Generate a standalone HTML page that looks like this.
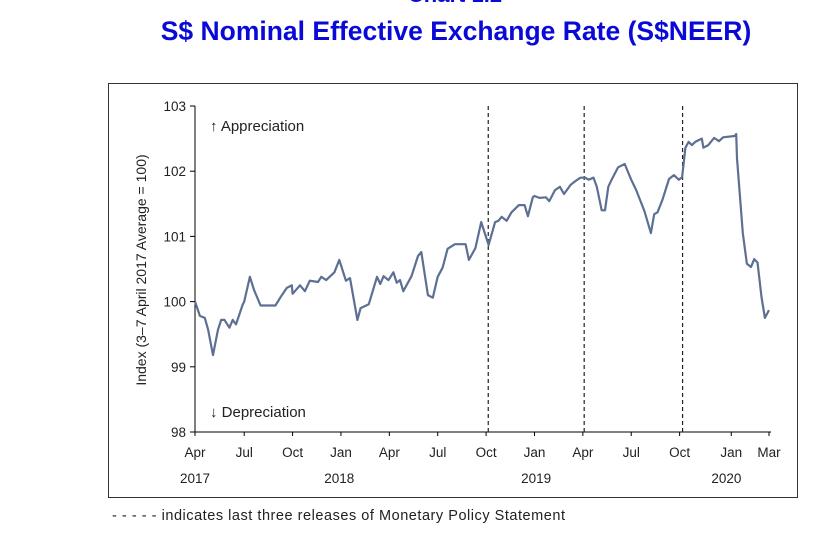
<!DOCTYPE html>
<html><head><meta charset="utf-8"><style>
body{margin:0;background:#fff;width:838px;height:544px;overflow:hidden;font-family:"Liberation Sans",Arial,sans-serif}
svg{position:absolute;left:0;top:0}
</style></head><body>
<svg width="838" height="544">
<text x="455" y="2" text-anchor="middle" font-size="22" font-weight="bold" fill="#0a0ad8">Chart 1.2</text>
<text x="456" y="40" text-anchor="middle" font-size="26.5" font-weight="bold" fill="#0a0ad8">S$ Nominal Effective Exchange Rate (S$NEER)</text>
<rect x="108.5" y="83.5" width="689" height="414" fill="none" stroke="#333" stroke-width="1"/>
<g id="axes"></g>
<g id="marks"></g>
<text x="112" y="520" font-size="14.5" fill="#222" textLength="453" lengthAdjust="spacing">- - - - -  indicates last three releases of Monetary Policy Statement</text>
</svg>
<script>
const months=[0,0.3,0.6,0.8,1.1,1.4,1.6,1.8,2.1,2.3,2.5,2.9,3.0,3.35,3.6,4.0,4.9,5.3,5.6,5.9,5.95,6.4,6.7,7.0,7.5,7.7,8.0,8.5,8.8,9.2,9.45,9.9,10.1,10.6,11.1,11.3,11.5,11.8,12.1,12.3,12.5,12.7,13.2,13.6,13.8,14.2,14.5,14.8,15.1,15.4,15.85,16.5,16.7,17.1,17.45,17.9,18.3,18.5,18.7,19.0,19.3,19.75,20.1,20.3,20.6,20.7,21.0,21.4,21.6,21.95,22.25,22.5,22.9,23.2,23.5,23.8,24.0,24.3,24.5,24.8,25.0,25.2,25.4,25.8,26.2,26.6,26.9,27.4,27.8,28.0,28.2,28.5,28.9,29.2,29.5,29.7,29.9,30.1,30.3,30.5,30.9,31.0,31.3,31.65,31.95,32.2,32.9,33.0,33.05,33.4,33.65,33.9,34.1,34.3,34.55,34.75,35.0];
const neer=[100.0,99.78,99.75,99.57,99.18,99.57,99.72,99.72,99.6,99.72,99.65,99.95,100.0,100.38,100.18,99.94,99.94,100.1,100.21,100.25,100.12,100.25,100.16,100.32,100.3,100.38,100.33,100.45,100.64,100.32,100.36,99.72,99.9,99.96,100.38,100.27,100.39,100.33,100.45,100.29,100.33,100.16,100.39,100.7,100.76,100.1,100.06,100.38,100.52,100.81,100.88,100.88,100.64,100.82,101.22,100.87,101.22,101.24,101.3,101.24,101.37,101.48,101.48,101.31,101.6,101.62,101.59,101.6,101.54,101.71,101.76,101.65,101.79,101.85,101.9,101.9,101.87,101.9,101.76,101.4,101.4,101.76,101.87,102.06,102.11,101.87,101.71,101.39,101.05,101.34,101.37,101.56,101.88,101.94,101.87,101.91,102.36,102.45,102.4,102.45,102.5,102.36,102.4,102.51,102.46,102.52,102.54,102.57,102.2,101.05,100.58,100.53,100.65,100.6,100.06,99.75,99.87];
const yTicks=[98,99,100,101,102,103];
const xTickMonths=[0,3,5.95,8.9,11.85,14.8,17.75,20.7,23.65,26.6,29.55,32.7,35];
const xTickLabels=["Apr","Jul","Oct","Jan","Apr","Jul","Oct","Jan","Apr","Jul","Oct","Jan","Mar"];
const yearMonths=[0,8.8,20.8,32.4];
const yearLabels=["2017","2018","2019","2020"];
const mpsMonths=[17.85,23.7,29.7];

const X0=195,X1=769,Y0=432,Y1=106;
const x=m=>X0+(X1-X0)*m/35;
const y=v=>Y0-(Y0-Y1)*(v-98)/5;
const NS="http://www.w3.org/2000/svg";
function mk(t,a,p,txt){const e=document.createElementNS(NS,t);for(const k in a)e.setAttribute(k,a[k]);if(txt!==undefined)e.textContent=txt;p.appendChild(e);return e;}
const ax=document.getElementById('axes'),mg=document.getElementById('marks');
let e=mk('line',{x1:X0,y1:Y1,x2:X0,y2:Y0,stroke:'#000','stroke-width':1},ax);

e=mk('line',{x1:X0,y1:Y0,x2:X1+2,y2:Y0,stroke:'#000','stroke-width':1},ax);

yTicks.forEach(v=>{
 mk('line',{x1:X0-5,y1:y(v),x2:X0,y2:y(v),stroke:'#000'},ax);
 e=mk('text',{x:X0-9,y:y(v)+5,'text-anchor':'end','font-size':13.5,fill:'#222'},ax,String(v));
 
});
xTickMonths.forEach((m,i)=>{
 mk('line',{x1:x(m),y1:Y0,x2:x(m),y2:Y0+4,stroke:'#000'},ax);
 e=mk('text',{x:x(m),y:457,'text-anchor':'middle','font-size':13.5,fill:'#222'},ax,xTickLabels[i]);
 
});
yearMonths.forEach((m,i)=>{
 e=mk('text',{x:x(m),y:483,'text-anchor':'middle','font-size':13.5,fill:'#222'},ax,yearLabels[i]);
 
});
e=mk('text',{x:0,y:0,transform:'translate(146,270) rotate(-90)','text-anchor':'middle','font-size':14,fill:'#222'},ax,'Index (3–7 April 2017 Average = 100)');

e=mk('text',{x:210,y:131,'font-size':15,fill:'#222'},ax,'↑ Appreciation');

e=mk('text',{x:210,y:417,'font-size':15,fill:'#222'},ax,'↓ Depreciation');

mpsMonths.forEach(m=>{
 e=mk('line',{x1:x(m)+0.5,y1:Y1,x2:x(m)+0.5,y2:Y0,stroke:'#222','stroke-width':1.2,'stroke-dasharray':'4,3'},mg);
 
});
e=mk('polyline',{points:months.map((m,i)=>x(m).toFixed(1)+','+y(neer[i]).toFixed(1)).join(' '),fill:'none',stroke:'#5d6f92','stroke-width':2.2,'stroke-linejoin':'round'},mg);

</script>
</body></html>
